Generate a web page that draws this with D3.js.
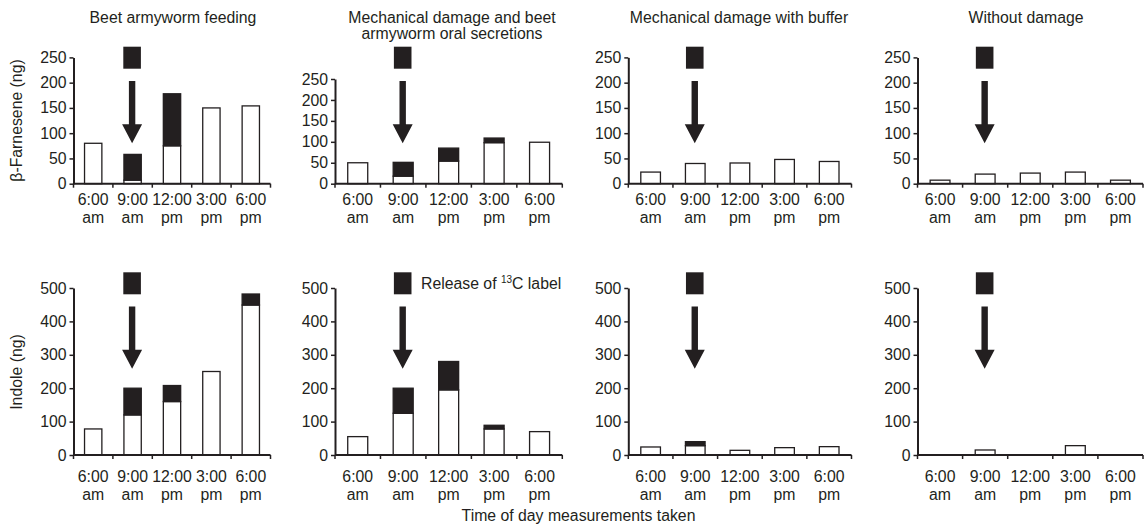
<!DOCTYPE html>
<html>
<head>
<meta charset="utf-8">
<script src="https://cdn.jsdelivr.net/npm/d3@7"></script>
<style>
  body { margin: 0; background: #fff; }
  svg { display: block; }
  text { font-family: "Liberation Sans", Arial, Helvetica, sans-serif; fill: #231f20; }
</style>
</head>
<body>
<div class="chart"></div>
<script>
// Categories / tick labels
var hours = ["6:00", "9:00", "12:00", "3:00", "6:00"];
var periods = ["am", "am", "pm", "pm", "pm"];
var treatments = ["Beet armyworm feeding",
                  "Mechanical damage and beet armyworm oral secretions",
                  "Mechanical damage with buffer",
                  "Without damage"];

// beta-Farnesene (ng): white = unlabeled, black = 13C labeled
var farnFeedingWhite = [80, 7, 75, 150, 154];
var farnFeedingBlack = [0, 51, 103, 0, 0];
var farnOSWhite = [50, 18, 54, 98, 99];
var farnOSBlack = [0, 33, 31, 11, 0];
var farnBufferWhite = [23, 40, 41, 48, 44];
var farnBufferBlack = [0, 0, 0, 0, 0];
var farnNoneWhite = [7, 19, 21, 23, 7];
var farnNoneBlack = [0, 0, 0, 0, 0];

// Indole (ng)
var indFeedingWhite = [78, 120, 160, 250, 449];
var indFeedingBlack = [0, 80, 48, 0, 33];
var indOSWhite = [55, 125, 195, 78, 70];
var indOSBlack = [0, 75, 85, 11, 0];
var indBufferWhite = [24, 28, 14, 22, 25];
var indBufferBlack = [0, 12, 0, 0, 0];
var indNoneWhite = [0, 15, 0, 28, 0];
var indNoneBlack = [0, 0, 0, 0, 0];

var farnTicks = [0, 50, 100, 150, 200, 250];
var indTicks = [0, 100, 200, 300, 400, 500];

var svgWidth = 1145;
var svgHeight = 531;
var dark = "#231f20";
var fs = 15.8;

var svg = d3.select(".chart")
    .append("svg")
    .attr("width", svgWidth)
    .attr("height", svgHeight);

// panel layout
var columns = [
  {x0: 73.5, x1: 270.5, titleX: 173},
  {x0: 335, x1: 562.3, titleX: 452},
  {x0: 628.3, x1: 851.5, titleX: 739},
  {x0: 917.5, x1: 1143, titleX: 1026}
];
var rows = [
  {yTop: 57.4, yBot: 183.7, labelY: 204.5, markTop: 46.7, ticks: farnTicks,
   white: [farnFeedingWhite, farnOSWhite, farnBufferWhite, farnNoneWhite],
   black: [farnFeedingBlack, farnOSBlack, farnBufferBlack, farnNoneBlack]},
  {yTop: 288, yBot: 455, labelY: 481.5, markTop: 272.3, ticks: indTicks,
   white: [indFeedingWhite, indOSWhite, indBufferWhite, indNoneWhite],
   black: [indFeedingBlack, indOSBlack, indBufferBlack, indNoneBlack]}
];

rows.forEach(function(row, r) {
  columns.forEach(function(col, c) {
    var g = svg.append("g");
    var yTop = (r === 0 && c === 1) ? 79 : row.yTop;

    var x = d3.scaleBand()
        .domain(d3.range(hours.length))
        .range([col.x0, col.x1])
        .padding(0);
    var y = d3.scaleLinear()
        .domain([0, d3.max(row.ticks)])
        .range([row.yBot, yTop]);

    var bw = x.bandwidth() * 0.44;

    // stacked bars
    var rowsData = hours.map(function(h, i) {
      return {i: i, white: row.white[c][i], black: row.black[c][i]};
    });
    var series = d3.stack().keys(["white", "black"])(rowsData);

    series.forEach(function(s) {
      g.selectAll(null)
        .data(s.filter(function(d) { return d[1] - d[0] > 0; }))
        .enter()
        .append("rect")
        .attr("x", function(d) { return x(d.data.i) + (x.bandwidth() - bw) / 2; })
        .attr("y", function(d) { return y(d[1]); })
        .attr("width", bw)
        .attr("height", function(d) { return y(d[0]) - y(d[1]); })
        .style("fill", s.key === "black" ? dark : "#fff")
        .style("stroke", dark)
        .style("stroke-width", 1.3);
    });

    // y axis
    var yAxis = g.append("g")
        .attr("transform", "translate(" + col.x0 + ",0)")
        .call(d3.axisLeft(y).tickValues(row.ticks).tickSize(4).tickSizeOuter(0).tickPadding(3));
    yAxis.select(".domain").style("stroke", dark).style("stroke-width", 2);
    yAxis.selectAll(".tick line").style("stroke", dark).style("stroke-width", 1.5);
    yAxis.selectAll(".tick text")
        .style("font-size", fs + "px")
        .style("font-family", "Liberation Sans, Arial, sans-serif")
        .style("fill", dark);

    // x axis
    g.append("line")
        .attr("x1", col.x0).attr("x2", col.x1)
        .attr("y1", row.yBot).attr("y2", row.yBot)
        .style("stroke", dark).style("stroke-width", 2);
    var bounds = x.domain().map(function(d) { return x(d); }).concat([col.x1]);
    g.selectAll(null).data(bounds).enter()
        .append("line")
        .attr("x1", function(d) { return d; }).attr("x2", function(d) { return d; })
        .attr("y1", row.yBot).attr("y2", row.yBot + 4)
        .style("stroke", dark).style("stroke-width", 1.5);

    var lab = g.selectAll(null).data(hours).enter()
        .append("text")
        .attr("text-anchor", "middle")
        .style("font-size", fs + "px");
    lab.append("tspan")
        .attr("x", function(d, i) { return x(i) + x.bandwidth() / 2; })
        .attr("y", row.labelY)
        .text(function(d) { return d; });
    lab.append("tspan")
        .attr("x", function(d, i) { return x(i) + x.bandwidth() / 2; })
        .attr("y", row.labelY + 18.5)
        .text(function(d, i) { return periods[i]; });

    // release marker and arrow at 9:00
    var cx = x(1) + x.bandwidth() / 2 - 0.5;
    g.append("rect")
        .attr("x", cx - 8.8).attr("y", row.markTop)
        .attr("width", 17.6).attr("height", 22)
        .style("fill", dark);
    var a0 = row.markTop + 34.3, a1 = row.markTop + 77.5, a2 = row.markTop + 96.5;
    g.append("path")
        .attr("d", "M" + (cx - 3.2) + "," + a0 + "H" + (cx + 3.2) + "V" + a1 +
                   "H" + (cx + 10) + "L" + cx + "," + a2 + "L" + (cx - 10) + "," + a1 +
                   "H" + (cx - 3.2) + "Z")
        .style("fill", dark);

    // panel titles
    if (r === 0) {
      var t = svg.append("text")
          .attr("text-anchor", "middle")
          .style("font-size", fs + "px");
      if (c === 1) {
        t.append("tspan").attr("x", col.titleX).attr("y", 22.5).text("Mechanical damage and beet");
        t.append("tspan").attr("x", col.titleX).attr("y", 39).text("armyworm oral secretions");
      } else {
        t.attr("x", col.titleX).attr("y", 22.5).text(treatments[c]);
      }
    }
  });
});

// y axis titles
svg.append("text")
    .attr("transform", "translate(22,120.5) rotate(-90)")
    .attr("text-anchor", "middle")
    .style("font-size", fs + "px")
    .text("β-Farnesene (ng)");
svg.append("text")
    .attr("transform", "translate(22,372) rotate(-90)")
    .attr("text-anchor", "middle")
    .style("font-size", fs + "px")
    .text("Indole (ng)");

// legend
var leg = svg.append("text")
    .attr("x", 421)
    .attr("y", 289)
    .style("font-size", fs + "px");
leg.append("tspan").text("Release of ");
leg.append("tspan").attr("dy", -6).style("font-size", "10px").text("13");
leg.append("tspan").attr("dy", 6).text("C label");

// x axis title
svg.append("text")
    .attr("x", 578.5)
    .attr("y", 521)
    .attr("text-anchor", "middle")
    .style("font-size", fs + "px")
    .text("Time of day measurements taken");
</script>
</body>
</html>
